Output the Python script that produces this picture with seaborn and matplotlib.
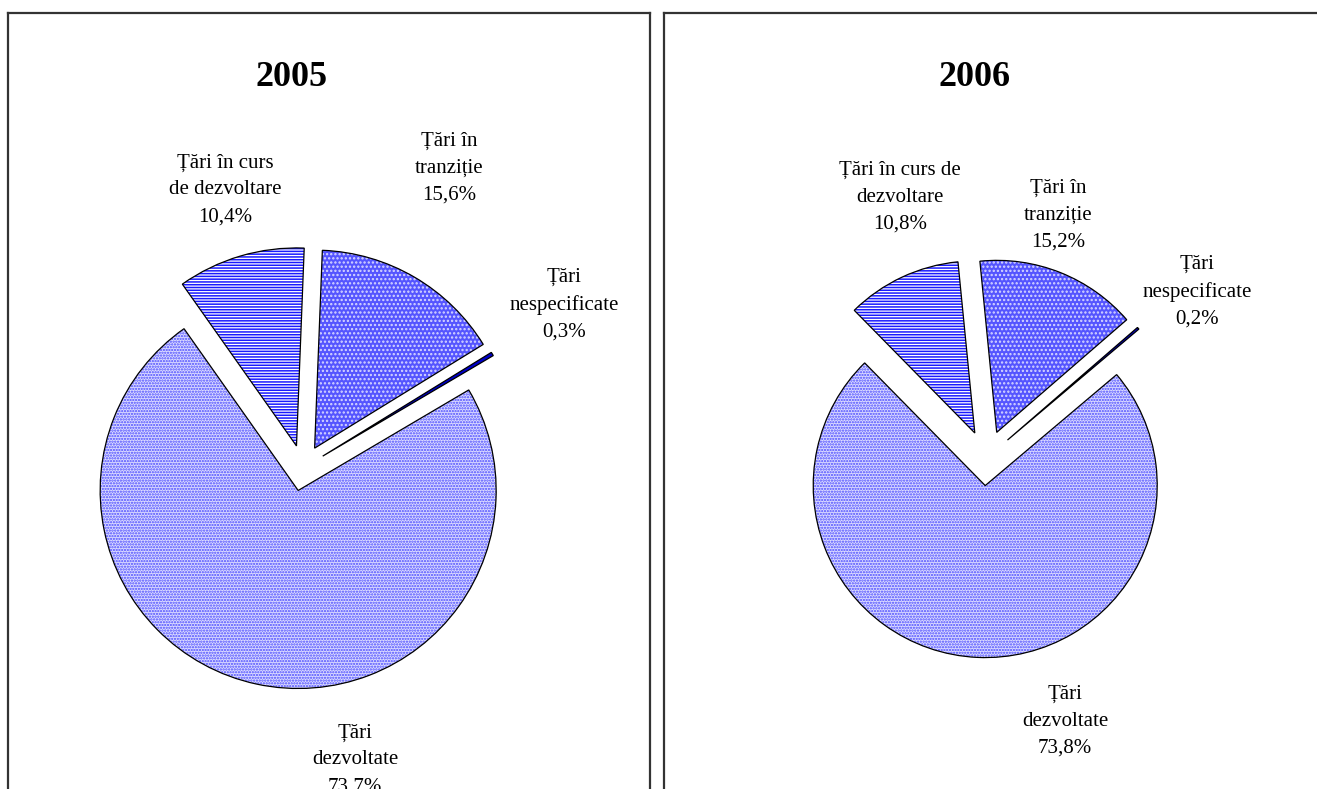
import matplotlib
matplotlib.use("Agg")
import matplotlib.pyplot as plt
import seaborn as sns

sns.set_theme(style="white")
plt.rcParams['font.family'] = ['Liberation Serif', 'DejaVu Serif']
plt.rcParams['hatch.linewidth'] = 1.1

# ---- data ----
years = ["2005", "2006"]
categories_2005 = ["Țări în curs\nde dezvoltare", "Țări în\ntranziție",
                   "Țări\nnespecificate", "Țări\ndezvoltate"]
categories_2006 = ["Țări în curs de\ndezvoltare", "Țări în\ntranziție",
                   "Țări\nnespecificate", "Țări\ndezvoltate"]
values_2005 = [10.4, 15.6, 0.3, 73.7]
values_2006 = [10.8, 15.2, 0.2, 73.8]

# ---- styles ----
face_colors = ["#ffffff", "#5555ff", "#0000cc", "#dcdcff"]
hatch_colors = ["#1a1aff", "#d8d8ff", "#0000cc", "#4a4aff"]
hatches = ["------", "....", "", "......"]

W, H = 1317, 789
fig = plt.figure(figsize=(W / 100, H / 100), dpi=100)
fig.patch.set_facecolor("white")

panels = [
    dict(x0=8, x1=650, y0=13, y1=800, cx=303, cy=468, r=198, expl=23, start=125.2,
         labels=categories_2005, values=values_2005, year=years[0],
         title_xy=(292, 77),
         label_xy=[(225, 190), (449, 168), (564, 305), (355, 760)]),
    dict(x0=664, x1=1330, y0=13, y1=800, cx=986.5, cy=458, r=172, expl=27.6, start=134.5,
         labels=categories_2006, values=values_2006, year=years[1],
         title_xy=(975, 77),
         label_xy=[(900, 197), (1058, 215), (1197, 292), (1065, 721)]),
]

for p in panels:
    ax = fig.add_axes([p["x0"] / W, (H - p["y1"]) / H,
                       (p["x1"] - p["x0"]) / W, (p["y1"] - p["y0"]) / H])
    center = (p["cx"], H - p["cy"])
    # hatched fill pass
    wedges, _ = ax.pie(p["values"], explode=[p["expl"]] * 4, startangle=p["start"],
                       counterclock=False, center=center, radius=p["r"],
                       colors=face_colors, hatch=hatches,
                       wedgeprops=dict(linewidth=0))
    for w, hc in zip(wedges, hatch_colors):
        w.set_edgecolor(hc)
        w.set_linewidth(0)
    # outline pass
    ax.pie(p["values"], explode=[p["expl"]] * 4, startangle=p["start"],
           counterclock=False, center=center, radius=p["r"],
           wedgeprops=dict(fill=False, edgecolor="black", linewidth=0.9))
    ax.set_aspect("auto")
    ax.set_xlim(p["x0"], p["x1"])
    ax.set_ylim(H - p["y1"], H - p["y0"])
    ax.set_frame_on(True)
    ax.set_xticks([])
    ax.set_yticks([])
    for s in ax.spines.values():
        s.set_visible(True)
        s.set_color("#333333")
        s.set_linewidth(1.6)

    tx, ty = p["title_xy"]
    ax.text(tx, H - ty, p["year"], ha="center", va="center",
            fontsize=26, fontweight="bold", color="black")
    for lab, val, (lx, ly) in zip(p["labels"], p["values"], p["label_xy"]):
        txt = lab + "\n" + f"{val:.1f}".replace(".", ",") + "%"
        ax.text(lx, H - ly, txt, ha="center", va="center", multialignment="center",
                fontsize=15, linespacing=1.55, color="black")

fig.savefig("out.png", dpi=100, facecolor="white")
